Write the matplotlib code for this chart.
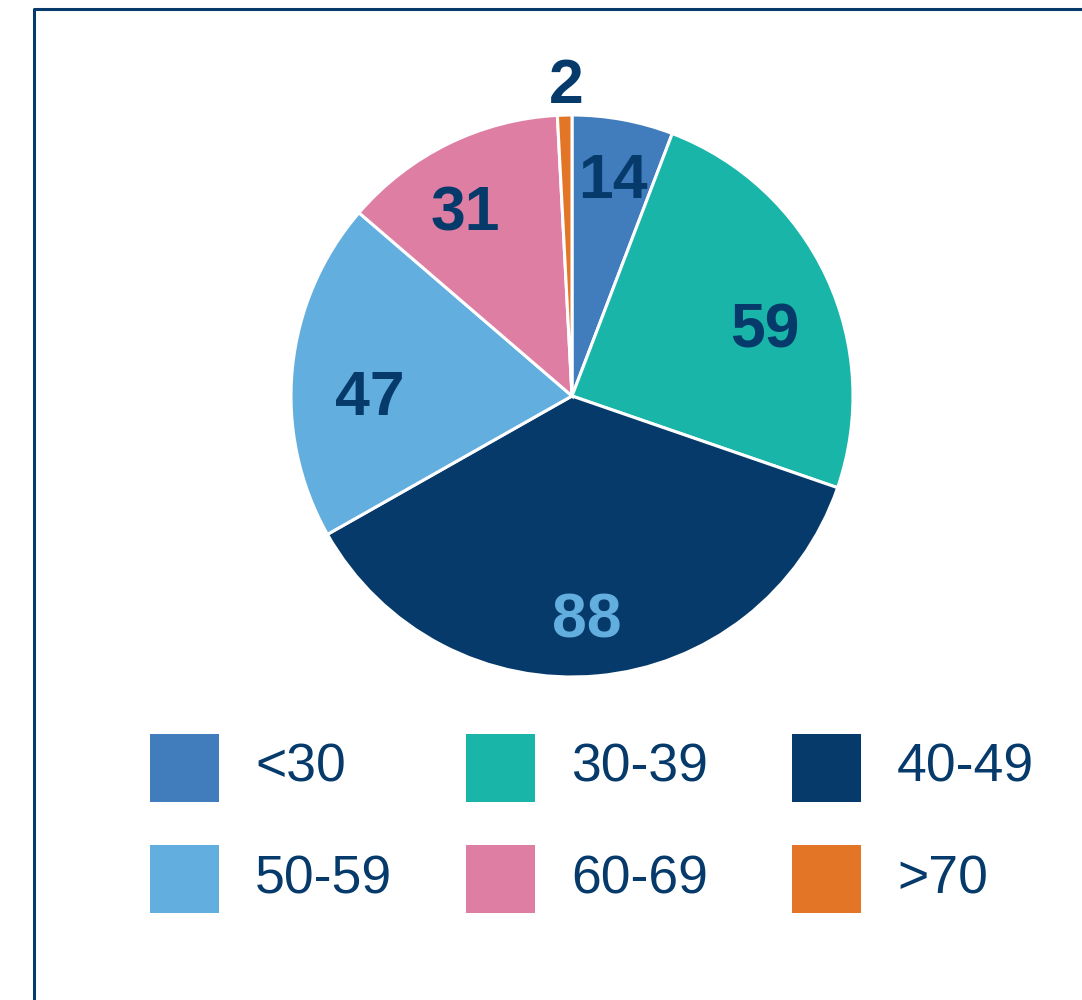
import numpy as np
import matplotlib
matplotlib.use("Agg")
import matplotlib.pyplot as plt
from matplotlib.patches import Rectangle
from matplotlib.transforms import offset_copy

plt.rcParams["font.family"] = ["Liberation Sans", "DejaVu Sans"]

groups = ["<30", "30-39", "40-49", "50-59", "60-69", ">70"]
counts = [14, 59, 88, 47, 31, 2]
colors = ["#417CBD", "#1AB5A9", "#053A6B", "#62AEDF", "#DE7EA3", "#E37526"]
label_colors = ["#053A6B", "#053A6B", "#62AEDF", "#053A6B", "#053A6B", "#053A6B"]

NAVY = "#053A6B"
W, H = 1082, 1000
fig = plt.figure(figsize=(W / 100, H / 100), dpi=100)

# pixel-space overlay for the frame and the legend
bg = fig.add_axes([0, 0, 1, 1])
bg.set_xlim(0, W); bg.set_ylim(H, 0); bg.axis("off")
bg.plot([34, 34, W + 5], [H + 5, 9, 9], color=NAVY, lw=2.2, solid_capstyle="butt")

# pie: centre (572, 396) px, radius 281 px
cx, cy, r = 572, 396, 281
pad = 340
ax = fig.add_axes([(cx - pad) / W, (H - cy - pad) / H, 2 * pad / W, 2 * pad / H])
wedges, _ = ax.pie(counts, colors=colors, startangle=90, counterclock=False,
                   radius=1, wedgeprops=dict(edgecolor="white", linewidth=2.2))
ax.set_xlim(-pad / r, pad / r); ax.set_ylim(-pad / r, pad / r)
ax.set_aspect("equal"); ax.axis("off")

# value labels: radial distance and angular nudge (deg, clockwise) per wedge
label_dist = [0.80, 0.73, 0.78, 0.72, 0.77, 1.125]
label_turn = [0, 4.8, 1.3, -4.5, -3.5, 0.4]
tr = offset_copy(ax.transData, fig=fig, y=-4.5, units="points")
for w, n, c, d, t in zip(wedges, counts, label_colors, label_dist, label_turn):
    mid = np.deg2rad((w.theta1 + w.theta2) / 2 - t)
    ax.text(d * np.cos(mid), d * np.sin(mid), str(n), ha="center", va="center",
            fontsize=45, fontweight="bold", color=c, transform=tr)

# legend, 3 columns x 2 rows
col_x = [150, 466, 792]
row_y = [768, 879]
for i, (g, c) in enumerate(zip(groups, colors)):
    x0, y0 = col_x[i % 3], row_y[i // 3]
    bg.add_patch(Rectangle((x0, y0 - 34), 69, 68, color=c, lw=0))
    bg.text(x0 + 105, y0, g, ha="left", va="center", fontsize=38.5, color=NAVY)

fig.savefig("out.png", dpi=100)
